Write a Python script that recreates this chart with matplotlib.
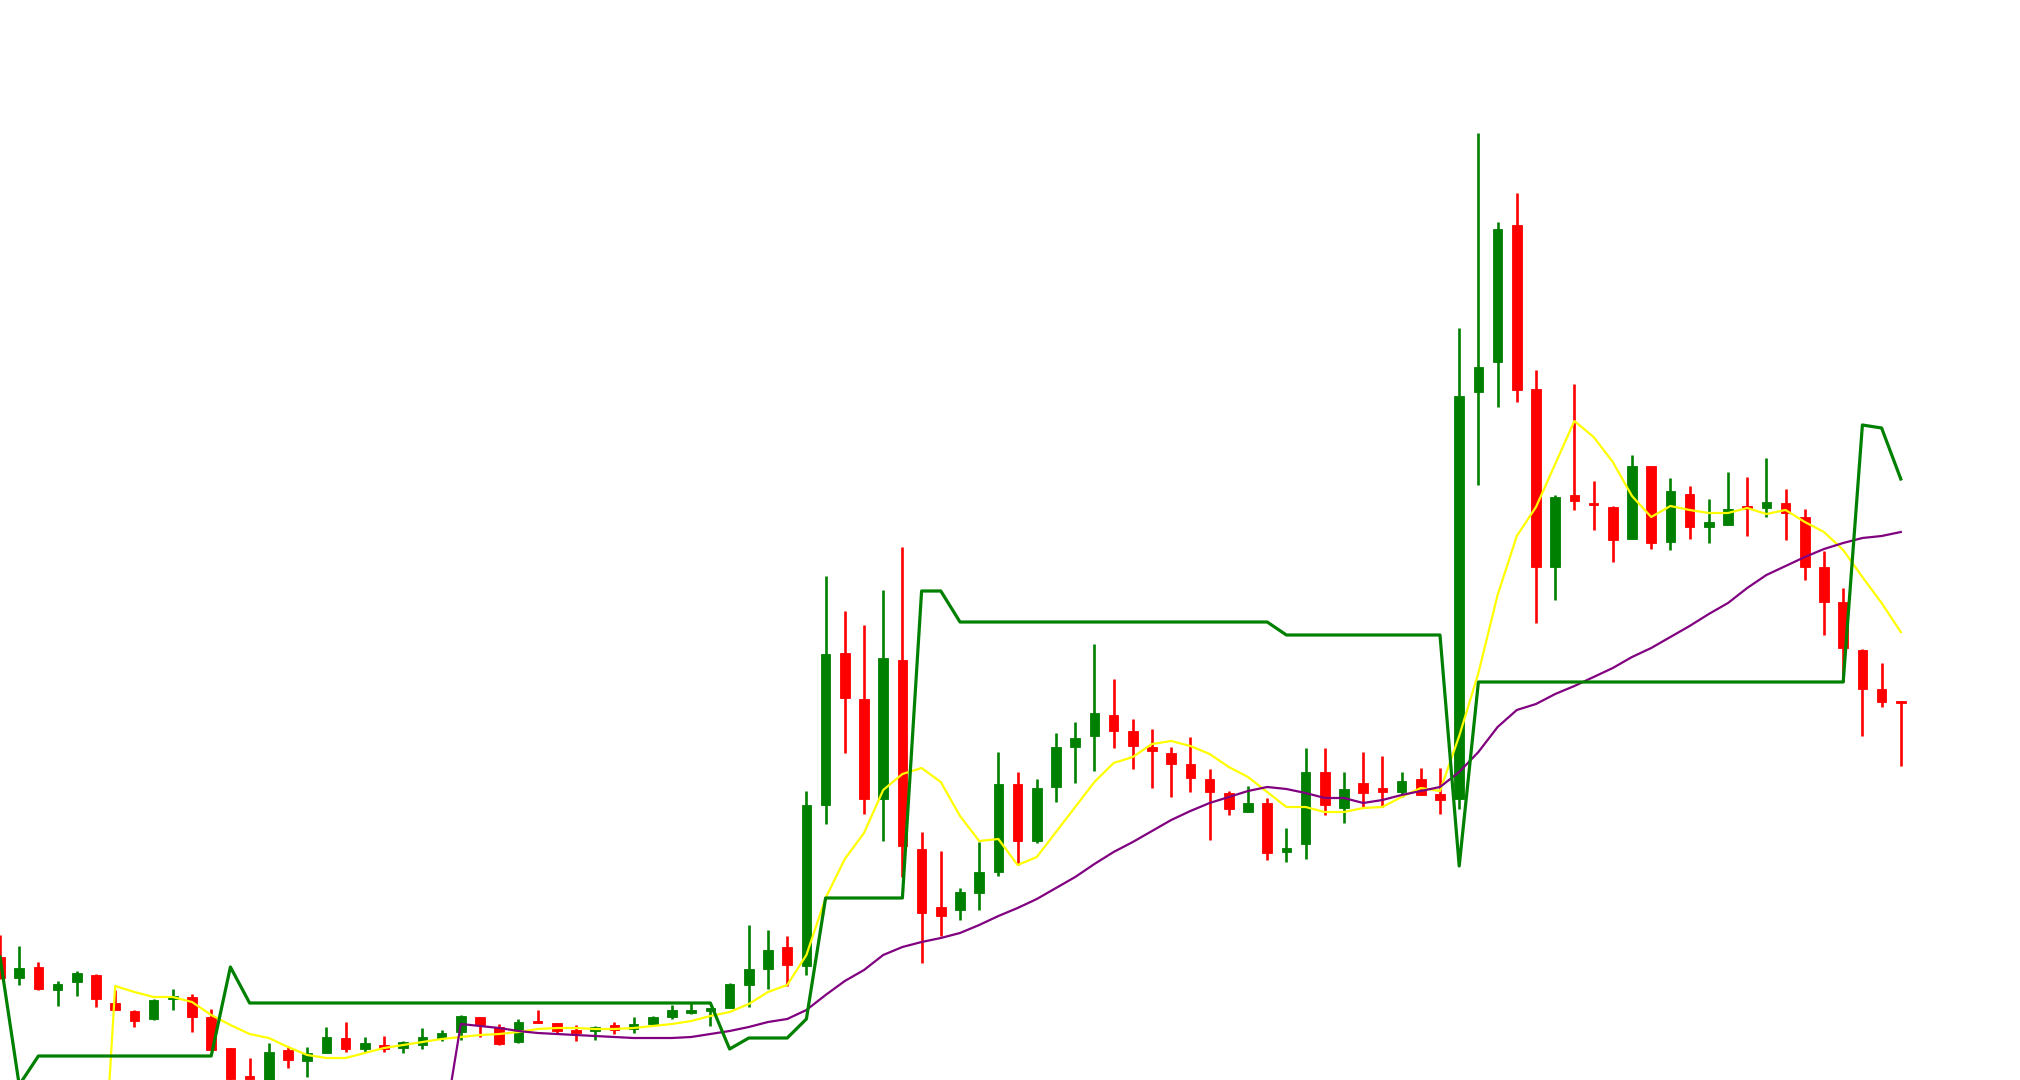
import matplotlib
matplotlib.use("Agg")
import matplotlib.pyplot as plt
import numpy as np

# OHLC values (arbitrary price scale)
opens = [4.43, 4.22, 4.33, 4.10, 4.18, 4.25, 3.97, 3.89, 3.81, 4.01,
         4.03, 3.83, 3.52, 3.23, 3.15, 3.50, 3.39, 3.47, 3.62, 3.51,
         3.55, 3.52, 3.55, 3.62, 3.68, 3.83, 3.73, 3.58, 3.78, 3.77,
         3.70, 3.69, 3.75, 3.71, 3.76, 3.83, 3.87, 3.895, 3.92, 4.15,
         4.31, 4.53, 4.34, 5.95, 7.47, 7.01, 6.01, 7.40, 5.51, 4.93,
         4.90, 5.07, 5.28, 6.16, 5.59, 6.13, 6.53, 6.64, 6.85, 6.69,
         6.53, 6.47, 6.36, 6.21, 6.07, 5.88, 5.97, 5.48, 5.56, 6.28,
         5.92, 6.17, 6.12, 6.08, 6.21, 6.06, 6.01, 10.08, 10.38, 11.75,
         10.11, 8.33, 9.05, 8.97, 8.93, 8.61, 9.34, 8.58, 9.06, 8.73,
         8.75, 8.93, 8.92, 8.97, 8.83, 8.33, 7.98, 7.50, 7.11, 6.985]
highs = [4.65, 4.54, 4.38, 4.19, 4.29, 4.26, 4.10, 3.90, 4.01, 4.11,
         4.06, 3.91, 3.52, 3.42, 3.57, 3.54, 3.53, 3.73, 3.78, 3.63,
         3.64, 3.59, 3.72, 3.70, 3.85, 3.83, 3.76, 3.81, 3.90, 3.77,
         3.75, 3.74, 3.78, 3.83, 3.84, 3.95, 3.98, 3.92, 4.17, 4.75,
         4.70, 4.64, 6.09, 8.24, 7.89, 7.75, 8.10, 8.53, 5.68, 5.49,
         5.12, 5.58, 6.48, 6.28, 6.21, 6.67, 6.78, 7.56, 7.21, 6.81,
         6.71, 6.53, 6.63, 6.31, 6.09, 6.14, 6.02, 5.72, 6.52, 6.52,
         6.28, 6.48, 6.44, 6.28, 6.32, 6.32, 10.72, 12.67, 11.78, 12.07,
         10.30, 9.05, 10.16, 9.19, 8.94, 9.45, 9.34, 9.22, 9.14, 9.01,
         9.28, 9.23, 9.42, 9.11, 8.91, 8.49, 8.12, 7.51, 7.37, 6.99]
lows = [4.21, 4.15, 4.10, 3.94, 4.04, 3.93, 3.90, 3.73, 3.80, 3.90,
        3.68, 3.50, 3.20, 3.21, 3.10, 3.32, 3.23, 3.47, 3.48, 3.48,
        3.48, 3.47, 3.51, 3.59, 3.60, 3.63, 3.55, 3.57, 3.77, 3.67,
        3.59, 3.60, 3.66, 3.67, 3.75, 3.81, 3.86, 3.74, 3.92, 3.93,
        4.11, 4.14, 4.25, 5.76, 6.47, 5.86, 5.59, 5.23, 4.37, 4.64,
        4.80, 4.90, 5.24, 5.35, 5.57, 5.98, 6.17, 6.29, 6.52, 6.31,
        6.12, 6.03, 6.08, 5.60, 5.85, 5.88, 5.40, 5.38, 5.41, 5.85,
        5.77, 5.93, 5.93, 6.03, 6.05, 5.86, 5.91, 9.15, 9.93, 9.98,
        7.77, 8.00, 8.90, 8.70, 8.38, 8.61, 8.51, 8.50, 8.61, 8.57,
        8.75, 8.64, 8.83, 8.60, 8.20, 7.65, 7.18, 6.64, 6.93, 6.34]
closes = [4.22, 4.32, 4.11, 4.16, 4.27, 4.01, 3.90, 3.79, 4.00, 4.04,
          3.83, 3.50, 3.21, 3.215, 3.48, 3.40, 3.47, 3.63, 3.51, 3.57,
          3.51, 3.58, 3.63, 3.67, 3.84, 3.75, 3.56, 3.78, 3.77, 3.69,
          3.67, 3.73, 3.70, 3.76, 3.83, 3.90, 3.90, 3.91, 4.16, 4.31,
          4.50, 4.35, 5.95, 7.46, 7.02, 6.01, 7.42, 5.54, 4.87, 4.84,
          5.08, 5.28, 6.16, 5.59, 6.12, 6.53, 6.62, 6.87, 6.69, 6.54,
          6.49, 6.36, 6.22, 6.08, 5.91, 5.97, 5.47, 5.52, 6.28, 5.95,
          6.11, 6.07, 6.08, 6.19, 6.05, 6.00, 10.04, 10.33, 11.71, 10.10,
          8.33, 9.03, 8.99, 8.95, 8.60, 9.34, 8.57, 9.09, 8.73, 8.78,
          8.91, 8.91, 8.98, 8.87, 8.33, 7.98, 7.52, 7.11, 6.98, 6.97]

# Short moving average (yellow), starts at index 5
ma_short = [4.14, 4.08, 4.03, 4.03, 3.98, 3.85, 3.75, 3.66, 3.62, 3.53,
            3.45, 3.42, 3.42, 3.47, 3.52, 3.55, 3.58, 3.61, 3.63, 3.65,
            3.66, 3.68, 3.71, 3.72, 3.72, 3.71, 3.71, 3.72, 3.74, 3.76,
            3.79, 3.84, 3.88, 3.96, 4.08, 4.15, 4.45, 5.02, 5.41, 5.67,
            6.10, 6.26, 6.32, 6.18, 5.84, 5.59, 5.61, 5.35, 5.43, 5.68,
            5.93, 6.18, 6.37, 6.43, 6.56, 6.59, 6.54, 6.46, 6.33, 6.23,
            6.08, 5.93, 5.93, 5.88, 5.88, 5.92, 5.93, 6.03, 6.12, 6.09,
            6.64, 7.27, 8.05, 8.64, 8.93, 9.36, 9.79, 9.63, 9.38, 9.04,
            8.83, 8.94, 8.90, 8.87, 8.87, 8.92, 8.86, 8.90, 8.78, 8.68,
            8.50, 8.23, 7.97, 7.68]
ma_short_first = 0.97
ma_short_start = 5

# Long moving average (purple), starts at index 23
ma_long = [3.76, 3.74, 3.72, 3.69, 3.67, 3.66, 3.65, 3.64, 3.63, 3.62,
           3.62, 3.62, 3.63, 3.66, 3.69, 3.73, 3.78, 3.81, 3.90, 4.05,
           4.19, 4.30, 4.45, 4.53, 4.58, 4.62, 4.67, 4.75, 4.84, 4.92,
           5.01, 5.12, 5.23, 5.36, 5.48, 5.58, 5.69, 5.80, 5.89, 5.97,
           6.03, 6.09, 6.13, 6.11, 6.07, 6.02, 6.02, 5.97, 6.00, 6.05,
           6.09, 6.13, 6.28, 6.48, 6.73, 6.90, 6.96, 7.06, 7.14, 7.23,
           7.32, 7.43, 7.52, 7.63, 7.74, 7.86, 7.97, 8.12, 8.25, 8.34,
           8.43, 8.51, 8.57, 8.62, 8.64, 8.68]
ma_long_first = 2.58
ma_long_start = 23

# Stop / trend line (thick green)
stop_line = [4.43, 3.15, 3.44, 3.44, 3.44, 3.44, 3.44, 3.44, 3.44, 3.44,
             3.44, 3.44, 4.33, 3.97, 3.97, 3.97, 3.97, 3.97, 3.97, 3.97,
             3.97, 3.97, 3.97, 3.97, 3.97, 3.97, 3.97, 3.97, 3.97, 3.97,
             3.97, 3.97, 3.97, 3.97, 3.97, 3.97, 3.97, 3.97, 3.51, 3.62,
             3.62, 3.62, 3.81, 5.02, 5.02, 5.02, 5.02, 5.02, 8.09, 8.09,
             7.78, 7.78, 7.78, 7.78, 7.78, 7.78, 7.78, 7.78, 7.78, 7.78,
             7.78, 7.78, 7.78, 7.78, 7.78, 7.78, 7.78, 7.65, 7.65, 7.65,
             7.65, 7.65, 7.65, 7.65, 7.65, 7.65, 5.34, 7.18, 7.18, 7.18,
             7.18, 7.18, 7.18, 7.18, 7.18, 7.18, 7.18, 7.18, 7.18, 7.18,
             7.18, 7.18, 7.18, 7.18, 7.18, 7.18, 7.18, 9.75, 9.72, 9.21]

UP = "#008000"
DOWN = "#ff0000"

fig = plt.figure(figsize=(20.2, 10.8), dpi=100)
ax = fig.add_axes([0, 0, 1, 1])
ax.set_axis_off()
fig.patch.set_facecolor("white")

o = np.array(opens)
h = np.array(highs)
l = np.array(lows)
c = np.array(closes)
x = np.arange(len(o))
colors = [UP if cc >= oo else DOWN for oo, cc in zip(o, c)]

ax.vlines(x, l, h, colors=colors, linewidth=1.9, zorder=2)
bottoms = np.minimum(o, c)
heights = np.maximum(np.abs(c - o), 0.025)
ax.bar(x, heights, bottom=bottoms, width=0.5, color=colors,
       edgecolor=colors, linewidth=0.6, zorder=3)

xs_short = np.arange(ma_short_start, ma_short_start + 1 + len(ma_short))
ax.plot(xs_short, [ma_short_first] + ma_short, color="#ffff00", linewidth=1.6, zorder=4)
xs_long = np.arange(ma_long_start, ma_long_start + 1 + len(ma_long))
ax.plot(xs_long, [ma_long_first] + ma_long, color="#800080", linewidth=1.6, zorder=4)
ax.plot(x, stop_line, color=UP, linewidth=2.3, zorder=5)

ax.set_xlim(0, 2020 / 19.2)
ax.set_ylim(3.2, 14.0)

fig.savefig("out.png", dpi=100, facecolor="white")
